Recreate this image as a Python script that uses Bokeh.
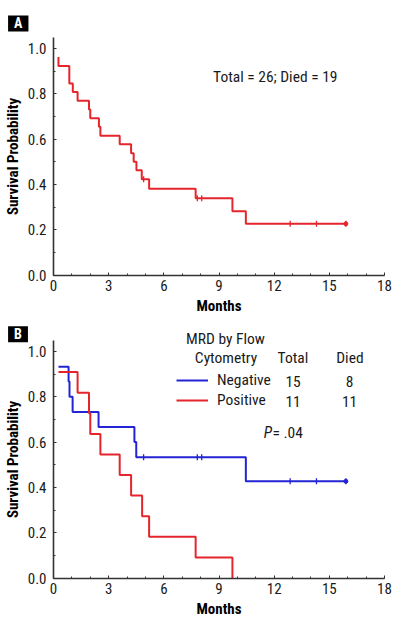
from bokeh.plotting import figure
from bokeh.models import Range1d, FixedTicker, PrintfTickFormatter, Label, Legend, LegendItem
from bokeh.layouts import column
from bokeh.embed import file_html
from bokeh.resources import INLINE

# ---------------- data ----------------
a_start_time = 0.27
a_start_surv = 0.962
a_event_times = [0.27, 0.86, 1.05, 1.31, 1.93, 2.00, 2.47, 2.55, 3.60, 4.22, 4.36, 4.51, 4.80, 5.20, 7.73, 9.73, 10.46]
a_event_surv = [0.923, 0.846, 0.808, 0.769, 0.731, 0.692, 0.654, 0.615, 0.577, 0.538, 0.500, 0.462, 0.423, 0.381, 0.339, 0.282, 0.226]
a_end_time = 15.9
a_censor_times = [4.9, 7.82, 8.06, 12.87, 14.3]
a_censor_surv = [0.423, 0.339, 0.339, 0.226, 0.226]

neg_start_time = 0.27
neg_start_surv = 0.933
neg_event_times = [0.82, 0.87, 1.04, 2.45, 4.40, 4.50, 10.46]
neg_event_surv = [0.867, 0.800, 0.733, 0.667, 0.600, 0.533, 0.427]
neg_end_time = 15.9
neg_censor_times = [4.9, 7.82, 8.06, 12.87, 14.3]
neg_censor_surv = [0.533, 0.533, 0.533, 0.427, 0.427]

pos_start_time = 0.27
pos_start_surv = 0.909
pos_event_times = [1.31, 1.93, 2.00, 2.55, 3.60, 4.22, 4.82, 5.20, 7.73, 9.73]
pos_event_surv = [0.818, 0.727, 0.636, 0.545, 0.455, 0.364, 0.273, 0.182, 0.091, 0.0]

groups = ["Negative", "Positive"]
group_totals = [15, 11]
group_died = [8, 11]

x_major_ticks = [0, 3, 6, 9, 12, 15, 18]
x_minor_ticks = list(range(0, 19))
y_major_ticks = [0.0, 0.2, 0.4, 0.6, 0.8, 1.0]
y_minor_ticks = [i / 10 for i in range(0, 11)]

RED = "#e5252c"
BLUE = "#2424d4"
FONT = "Roboto Condensed, Roboto, sans-serif"
TXT = "#1a1a1a"

KX = 331.0 / 18.0   # px per month
KY = 226.5          # px per unit probability
X0 = 53.0           # pixel column of month 0


def make_fig(h, y0_page, top_page):
    # whole figure is the frame; axes are pinned at the data origin
    y_top = (y0_page - top_page) / KY
    y_bot = (y0_page - (top_page + h)) / KY
    x_lo = (0 - X0) / KX
    x_hi = (400 - X0) / KX
    p = figure(width=400, height=h,
               x_range=Range1d(x_lo, x_hi), y_range=Range1d(y_bot, y_top),
               output_backend="svg", toolbar_location=None,
               min_border_left=0, min_border_right=0,
               min_border_top=0, min_border_bottom=0)
    p.outline_line_color = None
    p.xgrid.visible = False
    p.ygrid.visible = False
    p.xaxis.fixed_location = 0
    p.yaxis.fixed_location = 0
    p.xaxis.bounds = (0, 18)
    p.yaxis.bounds = (0, 1.05)
    p.xaxis.ticker = FixedTicker(ticks=x_major_ticks, minor_ticks=x_minor_ticks)
    p.yaxis.ticker = FixedTicker(ticks=y_major_ticks, minor_ticks=y_minor_ticks)
    p.yaxis.formatter = PrintfTickFormatter(format="%.1f")
    for ax in (p.xaxis[0], p.yaxis[0]):
        ax.axis_line_color = "#333333"
        ax.axis_line_width = 1.6
        ax.major_tick_line_color = "#333333"
        ax.minor_tick_line_color = "#333333"
        ax.major_tick_in = 3
        ax.major_tick_out = 0
        ax.minor_tick_in = 2
        ax.minor_tick_out = 0
        ax.major_label_text_font = FONT
        ax.major_label_text_font_size = "15px"
        ax.major_label_text_color = TXT
        ax.axis_label_text_font = FONT
        ax.axis_label_text_font_size = "15px"
        ax.axis_label_text_font_style = "bold"
        ax.axis_label_text_color = "black"
    p.xaxis.axis_label = "Months"
    p.yaxis.axis_label = "Survival Probability"
    p.xaxis.major_label_standoff = 5
    p.xaxis.axis_label_standoff = 2
    p.yaxis.major_label_standoff = 7
    p.yaxis.axis_label_standoff = 3
    return p


def km_line(p, t0, s0, times, survs, end_t, color):
    xs = [t0] + list(times)
    ys = [s0] + list(survs)
    if end_t is not None:
        xs = xs + [end_t]
        ys = ys + [ys[-1]]
    return p.step(xs, ys, mode="after", line_color=color, line_width=2)


def censor(p, times, survs, end_t, end_s, color):
    p.scatter(list(times) + [end_t], list(survs) + [end_s], marker="dash", angle=1.5708,
              size=6, line_color=color, line_width=1.3)
    p.scatter([end_t], [end_s], marker="circle", size=4, line_color=color, fill_color=color)


def panel_tag(p, letter, y):
    p.add_layout(Label(x=-2.47, y=y, text=letter, text_align="left", text_baseline="top",
                       text_font=FONT, text_font_size="14px", text_font_style="bold",
                       text_color="white", background_fill_color="black", padding=(6, 0)))


TS = "15.5px"

# ---------------- panel A ----------------
pa = make_fig(314, 274.5, 0)
km_line(pa, a_start_time, a_start_surv, a_event_times, a_event_surv, a_end_time, RED)
censor(pa, a_censor_times, a_censor_surv, a_end_time, a_event_surv[-1], RED)
pa.add_layout(Label(x=12.06, y=0.873, text="Total = 26; Died = 19", text_align="center",
                    text_baseline="middle", text_font=FONT, text_font_size=TS, text_color=TXT))
panel_tag(pa, "A", 1.146)

# ---------------- panel B ----------------
pb = make_fig(312, 577.5, 314)
r_neg = km_line(pb, neg_start_time, neg_start_surv, neg_event_times, neg_event_surv, neg_end_time, BLUE)
r_pos = km_line(pb, pos_start_time, pos_start_surv, pos_event_times, pos_event_surv, None, RED)
censor(pb, neg_censor_times, neg_censor_surv, neg_end_time, neg_event_surv[-1], BLUE)
panel_tag(pb, "B", 1.111)

legend = Legend(items=[LegendItem(label=groups[0], renderers=[r_neg]),
                       LegendItem(label=groups[1], renderers=[r_pos])],
                location=(176, 217), padding=0, margin=0, spacing=2,
                glyph_width=32, glyph_height=18, label_height=18, label_standoff=9,
                border_line_color=None, background_fill_alpha=0,
                label_text_font=FONT, label_text_font_size=TS, label_text_color=TXT)
pb.add_layout(legend)

hdr = dict(text_baseline="middle", text_font=FONT, text_font_size=TS, text_color=TXT)
pb.add_layout(Label(x=9.35, y=1.057, text="MRD by Flow", text_align="center", **hdr))
pb.add_layout(Label(x=9.38, y=0.973, text="Cytometry", text_align="center", **hdr))
pb.add_layout(Label(x=13.02, y=0.973, text="Total", text_align="center", **hdr))
pb.add_layout(Label(x=16.12, y=0.973, text="Died", text_align="center", **hdr))
row_y = [0.8676, 0.7793]
for yy, tot, died in zip(row_y, group_totals, group_died):
    pb.add_layout(Label(x=13.03, y=yy, text=str(tot), text_align="center", **hdr))
    pb.add_layout(Label(x=16.1, y=yy, text=str(died), text_align="center", **hdr))
pb.add_layout(Label(x=11.44, y=0.639, text="P", text_align="left", text_font_style="italic", **hdr))
pb.add_layout(Label(x=11.91, y=0.639, text="= .04", text_align="left", **hdr))

layout = column(pa, pb, spacing=0)
open("out.html", "w").write(file_html(layout, INLINE))
